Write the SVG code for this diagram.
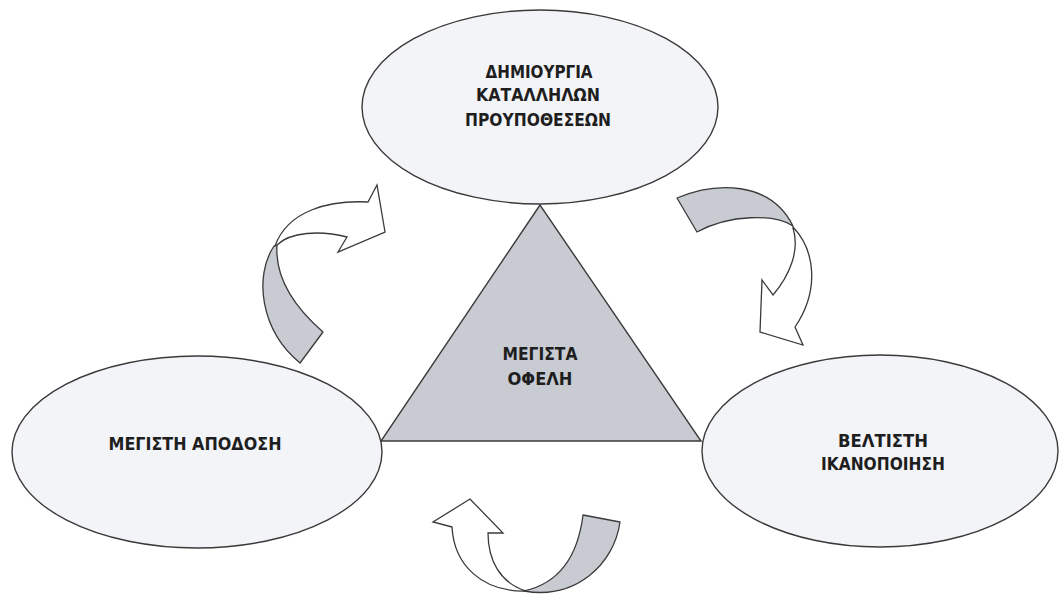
<svg xmlns="http://www.w3.org/2000/svg" width="1059" height="600" viewBox="0 0 1059 600">
  <style>
    .node { fill: #f3f4f7; stroke: #3a3a3a; stroke-width: 1.4; }
    .tri { fill: #c9cbd3; stroke: #3a3a3a; stroke-width: 1.4; stroke-linejoin: miter; }
    .back { fill: #c9cbd3; stroke: #3a3a3a; stroke-width: 1.3; stroke-linejoin: round; }
    .front { fill: #ffffff; stroke: #3a3a3a; stroke-width: 1.3; stroke-linejoin: miter; }
    .lbl { font-family: "DejaVu Sans Condensed", "DejaVu Sans", sans-serif; font-size: 18px; font-weight: bold; fill: #1e1e1e; text-anchor: middle; }
  </style>
  <rect width="1059" height="600" fill="#ffffff"/>

  <g id="connectors">
    <!-- left cycle arrow: bottom-left up to top ellipse -->
    <g id="arrow-left">
      <path class="back" d="M 274 246 C 254 276, 260 330, 300 363 L 323 332 C 292 305, 275 275, 277 245 Z"/>
      <path class="front" d="M 275 246 C 288 210, 330 200, 368 202 L 377 185 L 385 232 L 338 252 L 347 237 C 320 230, 290 232, 277 245 Z"/>
    </g>
    <!-- right cycle arrow: top ellipse down to right ellipse -->
    <g id="arrow-right">
      <path class="back" d="M 677 198 C 715 182, 770 180, 793 226 C 775 214, 730 214, 697 232 Z"/>
      <path class="front" d="M 793 227 C 815 250, 820 290, 795 327 L 803 345 L 760 332 L 762 280 L 773 295 C 790 275, 800 250, 793 228 Z"/>
    </g>
    <!-- bottom cycle arrow: right side back up to the left -->
    <g id="arrow-bottom">
      <path class="back" d="M 583 515 L 620 522 C 614 565, 575 600, 524 591 C 560 583, 578 555, 583 515 Z"/>
      <path class="front" d="M 452 527 L 433 522 L 470 499 L 503 533 L 488 533 C 488 560, 500 583, 526 591 C 482 592, 454 565, 452 527 Z"/>
    </g>
  </g>

  <g id="node-top">
    <ellipse class="node" cx="540" cy="107" rx="178" ry="97"/>
    <text class="lbl" x="539" y="78" textLength="107" lengthAdjust="spacingAndGlyphs">ΔΗΜΙΟΥΡΓΙΑ</text>
    <text class="lbl" x="538" y="101" textLength="124" lengthAdjust="spacingAndGlyphs">ΚΑΤΑΛΛΗΛΩΝ</text>
    <text class="lbl" x="538" y="126" textLength="146" lengthAdjust="spacingAndGlyphs">ΠΡΟΥΠΟΘΕΣΕΩΝ</text>
  </g>

  <g id="node-center">
    <polygon class="tri" points="540,205 381,441 701,441"/>
    <text class="lbl" x="540" y="360" textLength="75" lengthAdjust="spacingAndGlyphs">ΜΕΓΙΣΤΑ</text>
    <text class="lbl" x="540" y="385" textLength="65" lengthAdjust="spacingAndGlyphs">ΟΦΕΛΗ</text>
  </g>

  <g id="node-left">
    <ellipse class="node" cx="197" cy="452" rx="185" ry="96"/>
    <text class="lbl" x="195" y="450" textLength="173" lengthAdjust="spacingAndGlyphs">ΜΕΓΙΣΤΗ ΑΠΟΔΟΣΗ</text>
  </g>

  <g id="node-right">
    <ellipse class="node" cx="880" cy="451" rx="178" ry="96"/>
    <text class="lbl" x="883" y="447" textLength="90" lengthAdjust="spacingAndGlyphs">ΒΕΛΤΙΣΤΗ</text>
    <text class="lbl" x="883" y="470" textLength="124" lengthAdjust="spacingAndGlyphs">ΙΚΑΝΟΠΟΙΗΣΗ</text>
  </g>
</svg>
